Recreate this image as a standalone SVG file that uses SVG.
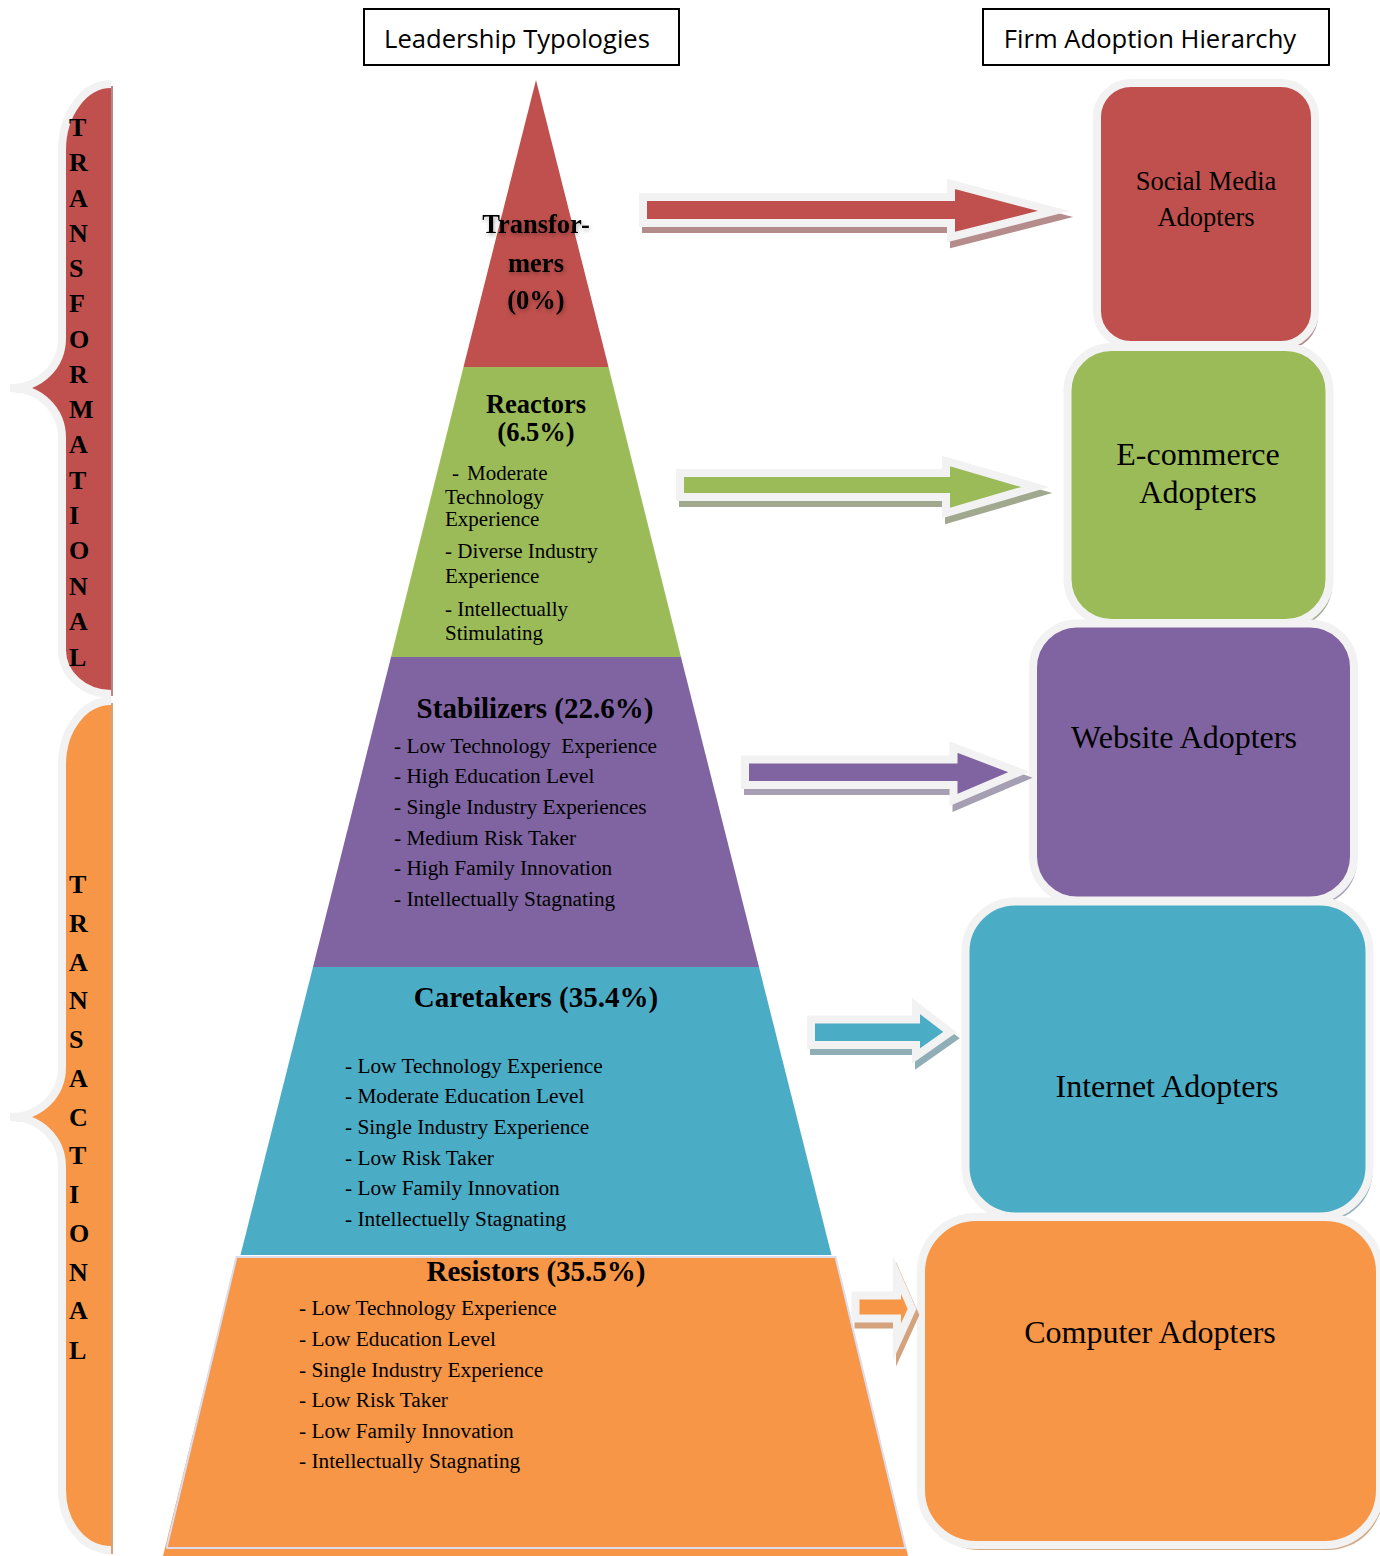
<svg xmlns="http://www.w3.org/2000/svg" width="1380" height="1556" viewBox="0 0 1380 1556">
  <defs>
    <style>
      .hdr { font-family: "Open Sans", "Liberation Sans", sans-serif; font-size: 25.6px; fill: #000; }
      .hdrbox { fill: #fff; stroke: #000; stroke-width: 2; }
      .vert { font-family: "Liberation Serif", serif; font-weight: bold; font-size: 26px; fill: #000; }
      .ttl { font-family: "Liberation Serif", serif; font-weight: bold; fill: #000; text-anchor: middle; }
      .bul { font-family: "Liberation Serif", serif; font-size: 21.3px; fill: #000; }
      .bul21 { font-family: "Liberation Serif", serif; font-size: 21px; fill: #000; }
      .box { stroke: #f2f2f2; stroke-width: 8; }
      .boxtxt { font-family: "Liberation Serif", serif; font-size: 32px; fill: #000; text-anchor: middle; }
      .boxtxt-sm { font-family: "Liberation Serif", serif; font-size: 26.5px; fill: #000; text-anchor: middle; }
      .arr { stroke: #f2f2f2; stroke-width: 8; stroke-linejoin: miter; stroke-miterlimit: 6; }
      .brace { fill: none; stroke: #f2f2f2; stroke-width: 8; }
    </style>
    <filter id="glow" x="-20%" y="-30%" width="140%" height="160%">
      <feGaussianBlur in="SourceAlpha" stdDeviation="2.2"/>
      <feOffset dx="1" dy="2" result="b"/>
      <feFlood flood-color="#000" flood-opacity="0.3"/>
      <feComposite in2="b" operator="in"/>
      <feMerge><feMergeNode/><feMergeNode in="SourceGraphic"/></feMerge>
    </filter>
  </defs>

  <rect width="1380" height="1556" fill="#fff"/>

  <!-- column headers -->
  <g id="hdr-leadership">
    <rect class="hdrbox" x="364" y="9" width="315" height="56"/>
    <text class="hdr" x="517" y="48" text-anchor="middle">Leadership Typologies</text>
  </g>
  <g id="hdr-adoption">
    <rect class="hdrbox" x="983" y="9" width="346" height="56"/>
    <text class="hdr" x="1150" y="48" text-anchor="middle">Firm Adoption Hierarchy</text>
  </g>

  <!-- left braces -->
  <g id="brace-transformational">
    <path d="M113,86 L113,696 C86,696 65,676 65,652 L65,441 C65,412 42,392 14,392 C42,392 65,370 65,340 L65,152 C65,116 86,86 113,86 Z" fill="#b08a8a"/>
    <path d="M111,84 C84,84 62,114 62,150 L62,338 C62,367 39,388 10,388 C39,388 62,409 62,438 L62,650 C62,674 84,694 111,694 Z" fill="#c0504d"/>
    <path class="brace" d="M111,84 C84,84 62,114 62,150 L62,338 C62,367 39,388 10,388 C39,388 62,409 62,438 L62,650 C62,674 84,694 111,694"/>
    <text class="vert" x="69" y="136">T</text>
    <text class="vert" x="69" y="171">R</text>
    <text class="vert" x="69" y="207">A</text>
    <text class="vert" x="69" y="242">N</text>
    <text class="vert" x="69" y="277">S</text>
    <text class="vert" x="69" y="312">F</text>
    <text class="vert" x="69" y="348">O</text>
    <text class="vert" x="69" y="383">R</text>
    <text class="vert" x="69" y="418">M</text>
    <text class="vert" x="69" y="453">A</text>
    <text class="vert" x="69" y="489">T</text>
    <text class="vert" x="69" y="524">I</text>
    <text class="vert" x="69" y="559">O</text>
    <text class="vert" x="69" y="595">N</text>
    <text class="vert" x="69" y="630">A</text>
    <text class="vert" x="69" y="666">L</text>
  </g>
  <g id="brace-transactional">
    <path d="M113,703 L113,1554 C86,1554 65,1526 65,1494 L65,1171 C65,1142 42,1121 14,1121 C42,1121 65,1100 65,1070 L65,769 C65,731 86,703 113,703 Z" fill="#d2a27c"/>
    <path d="M111,701 C84,701 62,729 62,765 L62,1067 C62,1096 39,1117 10,1117 C39,1117 62,1138 62,1167 L62,1490 C62,1524 84,1550 111,1550 Z" fill="#f79646"/>
    <path class="brace" d="M111,701 C84,701 62,729 62,765 L62,1067 C62,1096 39,1117 10,1117 C39,1117 62,1138 62,1167 L62,1490 C62,1524 84,1550 111,1550"/>
    <text class="vert" x="69" y="893">T</text>
    <text class="vert" x="69" y="932">R</text>
    <text class="vert" x="69" y="971">A</text>
    <text class="vert" x="69" y="1009">N</text>
    <text class="vert" x="69" y="1048">S</text>
    <text class="vert" x="69" y="1087">A</text>
    <text class="vert" x="69" y="1126">C</text>
    <text class="vert" x="69" y="1164">T</text>
    <text class="vert" x="69" y="1203">I</text>
    <text class="vert" x="69" y="1242">O</text>
    <text class="vert" x="69" y="1281">N</text>
    <text class="vert" x="69" y="1319">A</text>
    <text class="vert" x="69" y="1359">L</text>
  </g>

  <!-- pyramid tiers -->
  <g id="tier-transformers">
    <polygon points="536,80 608.5,367 463.5,367" fill="#c0504d"/>
    <g filter="url(#glow)">
      <text class="ttl" x="536" y="233" style="font-size:26.5px">Transfor-</text>
      <text class="ttl" x="536" y="272" style="font-size:26.5px">mers</text>
      <text class="ttl" x="536" y="309" style="font-size:26.5px">(0%)</text>
    </g>
  </g>
  <g id="tier-reactors">
    <polygon points="463.5,367 608.5,367 681,657 391,657" fill="#9bbb59"/>
    <text class="ttl" x="536" y="413" style="font-size:26.5px">Reactors</text>
    <text class="ttl" x="536" y="441" style="font-size:26.5px">(6.5%)</text>
    <text class="bul21" x="452" y="480">-</text>
    <text class="bul21" x="467" y="480">Moderate</text>
    <text class="bul21" x="445" y="504">Technology</text>
    <text class="bul21" x="445" y="526">Experience</text>
    <text class="bul21" x="445" y="558">- Diverse Industry</text>
    <text class="bul21" x="445" y="583">Experience</text>
    <text class="bul21" x="445" y="616">- Intellectually</text>
    <text class="bul21" x="445" y="640">Stimulating</text>
  </g>
  <g id="tier-stabilizers">
    <polygon points="391,657 681,657 759,967 313,967" fill="#8064a2"/>
    <text class="ttl" x="535" y="718" style="font-size:29px">Stabilizers (22.6%)</text>
    <text class="bul" x="394" y="753" xml:space="preserve">- Low Technology  Experience</text>
    <text class="bul" x="394" y="783">- High Education Level</text>
    <text class="bul" x="394" y="814">- Single Industry Experiences</text>
    <text class="bul" x="394" y="845">- Medium Risk Taker</text>
    <text class="bul" x="394" y="875">- High Family Innovation</text>
    <text class="bul" x="394" y="906">- Intellectually Stagnating</text>
  </g>
  <g id="tier-caretakers">
    <polygon points="313,967 759,967 831.5,1255 240.5,1255" fill="#4bacc6"/>
    <text class="ttl" x="536" y="1007" style="font-size:29px">Caretakers (35.4%)</text>
    <text class="bul" x="345" y="1073">- Low Technology Experience</text>
    <text class="bul" x="345" y="1103">- Moderate Education Level</text>
    <text class="bul" x="345" y="1134">- Single Industry Experience</text>
    <text class="bul" x="345" y="1165">- Low Risk Taker</text>
    <text class="bul" x="345" y="1195">- Low Family Innovation</text>
    <text class="bul" x="345" y="1226">- Intellectuelly Stagnating</text>
  </g>
  <g id="tier-resistors">
    <polygon points="236.5,1257 835.5,1257 908,1556 163,1556" fill="#f79646"/>
    <polyline points="166.5,1548 236.5,1257 835.5,1257 905.5,1548 166.5,1548" fill="none" stroke="#dcdcec" stroke-width="2"/>
    <text class="ttl" x="536" y="1281" style="font-size:29px">Resistors (35.5%)</text>
    <text class="bul" x="299" y="1315">- Low Technology Experience</text>
    <text class="bul" x="299" y="1346">- Low Education Level</text>
    <text class="bul" x="299" y="1377">- Single Industry Experience</text>
    <text class="bul" x="299" y="1407">- Low Risk Taker</text>
    <text class="bul" x="299" y="1438">- Low Family Innovation</text>
    <text class="bul" x="299" y="1468">- Intellectually Stagnating</text>
  </g>

  <!-- adoption boxes -->
  <g id="box-social-media">
    <rect x="1100" y="88" width="218" height="262" rx="34" fill="#b48e8e"/>
    <rect class="box" x="1097" y="83" width="218" height="262" rx="34" fill="#c0504d"/>
    <text class="boxtxt-sm" x="1206" y="190">Social Media</text>
    <text class="boxtxt-sm" x="1206" y="226">Adopters</text>
  </g>
  <g id="box-ecommerce">
    <rect x="1070.5" y="352" width="262" height="276" rx="44" fill="#a3ad92"/>
    <rect class="box" x="1067.5" y="347" width="262" height="276" rx="44" fill="#9bbb59"/>
    <text class="boxtxt" x="1198" y="465">E-commerce</text>
    <text class="boxtxt" x="1198" y="503">Adopters</text>
  </g>
  <g id="box-website">
    <rect x="1036" y="628.5" width="321" height="277" rx="44" fill="#a9a2b6"/>
    <rect class="box" x="1033" y="623.5" width="321" height="277" rx="44" fill="#8064a2"/>
    <text class="boxtxt" x="1184" y="748">Website Adopters</text>
  </g>
  <g id="box-internet">
    <rect x="968.5" y="906.5" width="404" height="315" rx="50" fill="#93b0b9"/>
    <rect class="box" x="965.5" y="901.5" width="404" height="315" rx="50" fill="#4bacc6"/>
    <text class="boxtxt" x="1167" y="1097">Internet Adopters</text>
  </g>
  <g id="box-computer">
    <rect x="924" y="1222" width="459" height="328" rx="55" fill="#d2aa88"/>
    <rect class="box" x="921" y="1217" width="459" height="328" rx="55" fill="#f79646"/>
    <text class="boxtxt" x="1150" y="1343">Computer Adopters</text>
  </g>

  <!-- connectors: block arrows from tiers to boxes -->
  <g id="connectors">
    <g id="arrow-red">
      <polygon transform="translate(3,6)" points="643,197 951,197 951,184 1054,211 951,237 951,223 643,223" fill="#b48c8c" stroke="#b48c8c" stroke-width="8" stroke-miterlimit="6"/>
      <polygon class="arr" points="643,197 951,197 951,184 1054,211 951,237 951,223 643,223" fill="#c0504d"/>
    </g>
    <g id="arrow-green">
      <polygon transform="translate(3,6)" points="680,473 946,473 946,461 1035,487 946,513 946,497 680,497" fill="#a0a98e" stroke="#a0a98e" stroke-width="8" stroke-miterlimit="6"/>
      <polygon class="arr" points="680,473 946,473 946,461 1035,487 946,513 946,497 680,497" fill="#9bbb59"/>
    </g>
    <g id="arrow-purple">
      <polygon transform="translate(3,6)" points="745,759.5 953.5,759.5 953.5,747 1019,772 953.5,800 953.5,785 745,785" fill="#a69eb2" stroke="#a69eb2" stroke-width="8" stroke-miterlimit="6"/>
      <polygon class="arr" points="745,759.5 953.5,759.5 953.5,747 1019,772 953.5,800 953.5,785 745,785" fill="#8064a2"/>
    </g>
    <g id="arrow-blue">
      <polygon transform="translate(3,6)" points="811,1019.5 916,1019.5 916,1006 950,1032 916,1056 916,1045 811,1045" fill="#8faeb6" stroke="#8faeb6" stroke-width="8" stroke-miterlimit="6"/>
      <polygon class="arr" points="811,1019.5 916,1019.5 916,1006 950,1032 916,1056 916,1045 811,1045" fill="#4bacc6"/>
    </g>
    <g id="arrow-orange">
      <polygon transform="translate(3,6)" points="855.5,1295.5 897,1295.5 897,1275 912,1309 897,1342 897,1318.5 855.5,1318.5" fill="#d4a27c" stroke="#d4a27c" stroke-width="8" stroke-miterlimit="6"/>
      <polygon class="arr" points="855.5,1295.5 897,1295.5 897,1275 912,1309 897,1342 897,1318.5 855.5,1318.5" fill="#f79646"/>
    </g>
  </g>
</svg>
